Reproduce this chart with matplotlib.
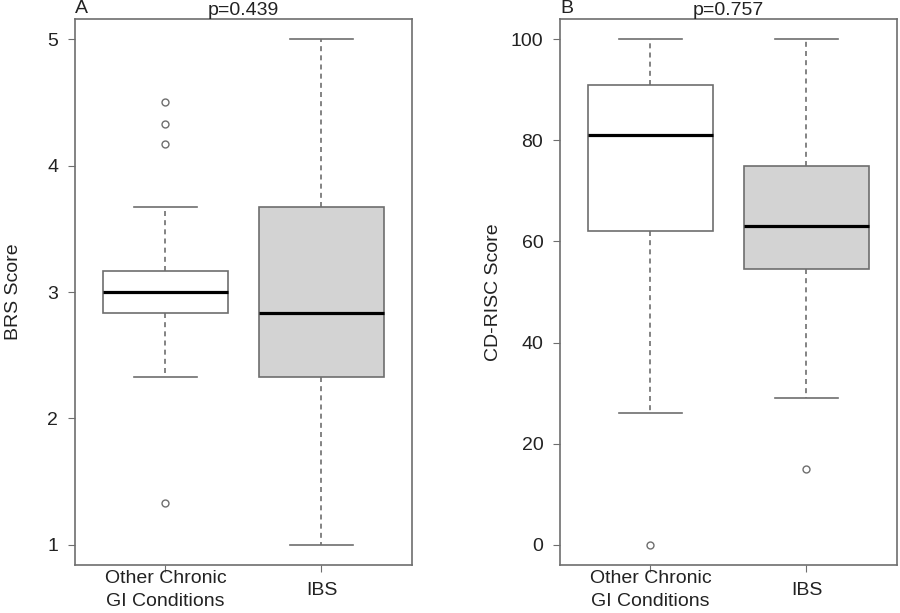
import matplotlib
matplotlib.use('Agg')
from matplotlib import pyplot as plt

plt.rcParams['font.family'] = ['Liberation Sans', 'DejaVu Sans']

# group labels
groups = ['Other Chronic\nGI Conditions', 'IBS']

# panel A: BRS score, five-number summaries
brs_low = [2.33, 1.0]
brs_q1 = [2.83, 2.33]
brs_med = [3.0, 2.83]
brs_q3 = [3.17, 3.67]
brs_high = [3.67, 5.0]
brs_out = [[4.5, 4.33, 4.17, 1.33], []]

# panel B: CD-RISC score
cd_low = [26, 29]
cd_q1 = [62, 54.5]
cd_med = [81, 63]
cd_q3 = [91, 75]
cd_high = [100, 100]
cd_out = [[0], [15]]

fills = ['white', '#d3d3d3']
edge = '#6e6e6e'
txt = '#222222'
fs = 14

def make_stats(lo, q1, med, q3, hi, fl):
	return [dict(whislo=lo[i], q1=q1[i], med=med[i], q3=q3[i], whishi=hi[i], fliers=fl[i], label=groups[i]) for i in range(len(groups))]

def draw(ax, stats, ticks, ylab, letter, ptxt, lab_x):
	bp = ax.bxp(stats, positions=[1, 2], widths=0.8, patch_artist=True,
		boxprops=dict(edgecolor=edge, linewidth=1.2),
		whiskerprops=dict(color=edge, linewidth=1.2, linestyle=(0, (3, 2.5))),
		capprops=dict(color=edge, linewidth=1.2),
		capwidths=0.4,
		medianprops=dict(color='black', linewidth=2.3),
		flierprops=dict(marker='o', markerfacecolor='none', markeredgecolor=edge, markersize=5, markeredgewidth=1))
	for p, c in zip(bp['boxes'], fills):
		p.set_facecolor(c)
	ax.set_xlim(0.42, 2.58)
	lo, hi = ticks[0], ticks[-1]
	r = hi - lo
	ax.set_ylim(lo - 0.04 * r, hi + 0.04 * r)
	ax.set_yticks(ticks)
	ax.set_xticks([1, 2])
	ax.set_xticklabels(groups, fontsize=fs, color=txt, va='center', linespacing=1.4)
	ax.tick_params(axis='y', labelsize=fs, labelcolor=txt, length=5, color=edge, pad=7)
	ax.tick_params(axis='x', length=5, color=edge, pad=13)
	for s in ax.spines.values():
		s.set_color(edge)
		s.set_linewidth(1.2)
	ax.set_ylabel(ylab, fontsize=fs, color=txt)
	ax.yaxis.set_label_coords(lab_x, 0.5)
	ax.set_title(ptxt, fontsize=fs, color=txt, pad=1)
	ax.text(0.0, 1.003, letter, transform=ax.transAxes, fontsize=fs, color=txt, ha='left', va='bottom')

fig = plt.figure(figsize=(9, 6.13), dpi=100)
ax1 = fig.add_axes([0.0833, 0.0783, 0.3744, 0.8907])
ax2 = fig.add_axes([0.6222, 0.0783, 0.3744, 0.8907])

draw(ax1, make_stats(brs_low, brs_q1, brs_med, brs_q3, brs_high, brs_out), [1, 2, 3, 4, 5], 'BRS Score', 'A', 'p=0.439', -0.157)
draw(ax2, make_stats(cd_low, cd_q1, cd_med, cd_q3, cd_high, cd_out), [0, 20, 40, 60, 80, 100], 'CD-RISC Score', 'B', 'p=0.757', -0.172)

plt.savefig('out.png', dpi=100)
